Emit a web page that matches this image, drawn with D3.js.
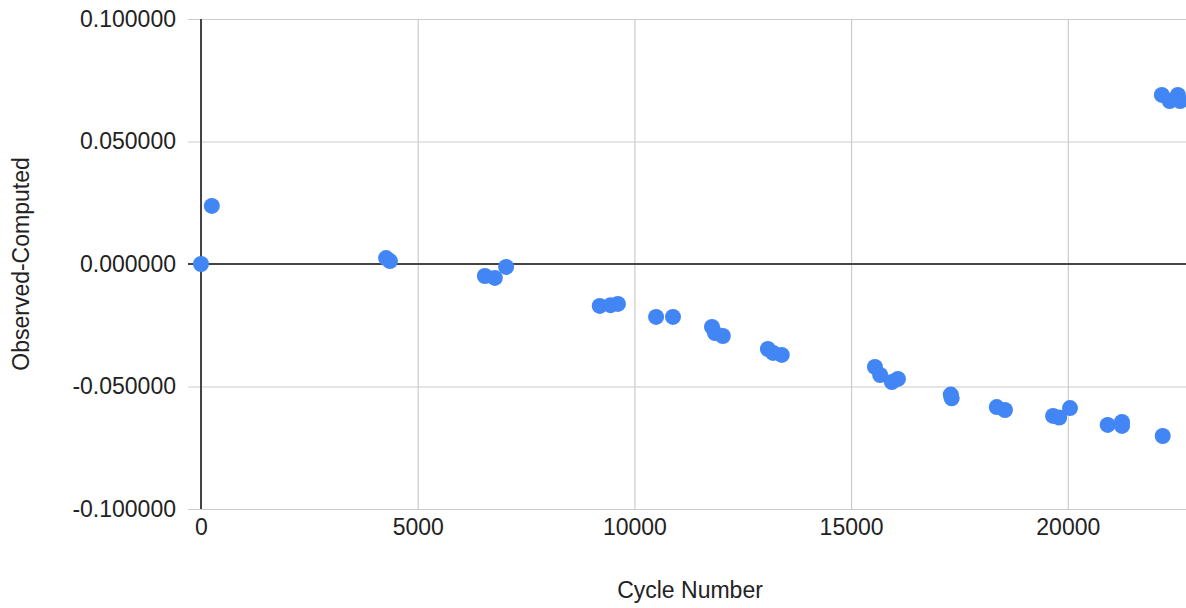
<!DOCTYPE html>
<html lang="en">
<head>
  <meta charset="UTF-8">
  <title>Observed-Computed vs Cycle Number</title>
  <script src="https://d3js.org/d3.v7.min.js"></script>
  <style>
    body { margin: 0; background: #fff; }
    svg { display: block; font-family: "Liberation Sans", Arial, sans-serif; }
    .tick text { fill: #222; font-size: 23px; }
    .grid line { stroke: #ccc; stroke-width: 1.2; }
    .grid .domain { display: none; }
    .axis-label { fill: #222; font-size: 23px; }
  </style>
</head>
<body>
  <div id="chart"></div>

  <script>
    // O-C data
    const cycles = [0, 250, 4270, 4360, 6550, 6780, 7040, 9200, 9450, 9620,
      10500, 10890, 11790, 11860, 12040, 13080, 13200, 13400,
      15550, 15670, 15940, 16080, 17300, 17320, 18360, 18550,
      19660, 19800, 20050, 20920, 21250, 21250, 22190,
      22170, 22350, 22540, 22590];
    const oc = [0, 0.0237, 0.0024, 0.0012, -0.0049, -0.0057, -0.0012, -0.0171, -0.0168, -0.0163,
      -0.0216, -0.0216, -0.0257, -0.0282, -0.0294, -0.0347, -0.0363, -0.0371,
      -0.0420, -0.0453, -0.0482, -0.0469, -0.0533, -0.0548, -0.0584, -0.0596,
      -0.0620, -0.0627, -0.0588, -0.0657, -0.0645, -0.0661, -0.0702,
      0.0690, 0.0665, 0.0690, 0.0665];
    const xTicks = [0, 5000, 10000, 15000, 20000];
    const yTicks = [-0.1, -0.05, 0, 0.05, 0.1];

    const data = cycles.map((c, i) => ({ cycle: c, oc: oc[i] }));

    const W = 1186, H = 608;
    const plotL = 188, plotR = 1186, plotT = 19, plotB = 509;

    const svg = d3.select("#chart").append("svg")
      .attr("width", W)
      .attr("height", H);

    const x = d3.scaleLinear().domain([-300, 22727]).range([plotL, plotR]);
    const y = d3.scaleLinear().domain([-0.1, 0.1]).range([plotB, plotT]);

    // plain hyphen instead of d3's unicode minus
    const fmtY = d => d.toFixed(6);

    // horizontal gridlines + y labels
    svg.append("g")
      .attr("class", "grid")
      .attr("transform", `translate(${plotL},0)`)
      .call(d3.axisLeft(y).tickValues(yTicks).tickFormat(fmtY)
        .tickSize(-(plotR - plotL)).tickPadding(12));

    // vertical gridlines + x labels
    svg.append("g")
      .attr("class", "grid")
      .attr("transform", `translate(0,${plotB})`)
      .call(d3.axisBottom(x).tickValues(xTicks).tickFormat(d3.format("d"))
        .tickSize(-(plotB - plotT)).tickPadding(10));

    // zero baselines
    svg.append("line")
      .attr("x1", plotL).attr("x2", plotR)
      .attr("y1", y(0)).attr("y2", y(0))
      .attr("stroke", "#444").attr("stroke-width", 2);
    svg.append("line")
      .attr("x1", x(0)).attr("x2", x(0))
      .attr("y1", plotT).attr("y2", plotB)
      .attr("stroke", "#444").attr("stroke-width", 2);

    svg.selectAll(".pt")
      .data(data)
      .enter()
      .append("circle")
      .attr("class", "pt")
      .attr("cx", d => x(d.cycle))
      .attr("cy", d => y(d.oc))
      .attr("r", 8)
      .attr("fill", "#4285f4");

    svg.append("text")
      .attr("class", "axis-label")
      .attr("x", 690)
      .attr("y", 598)
      .attr("text-anchor", "middle")
      .text("Cycle Number");

    svg.append("text")
      .attr("class", "axis-label")
      .attr("transform", `translate(29,${(plotT + plotB) / 2}) rotate(-90)`)
      .attr("text-anchor", "middle")
      .text("Observed-Computed");
  </script>
</body>
</html>
